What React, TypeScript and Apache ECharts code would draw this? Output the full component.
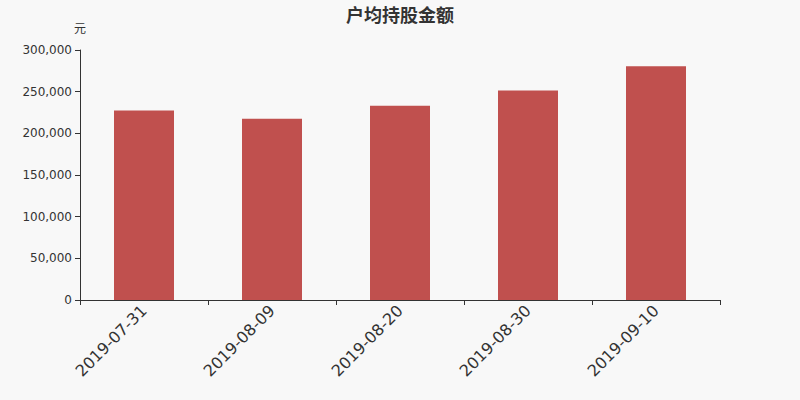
import React, { useEffect, useRef } from "react";
import * as echarts from "echarts";

const categories = ["2019-07-31", "2019-08-09", "2019-08-20", "2019-08-30", "2019-09-10"];
const values = [227500, 217500, 233000, 251500, 280500];
const titleText = "户均持股金额";
const unitName = "元";

export default function App() {
  const ref = useRef<HTMLDivElement>(null);
  useEffect(() => {
    if (!ref.current) return;
    const chart = echarts.init(ref.current, undefined, { renderer: "svg" });
    chart.setOption({
      animation: false,
      backgroundColor: "#f8f8f8",
      title: {
        text: titleText,
        left: "center",
        top: 0,
        textStyle: { fontSize: 18, fontWeight: "bold", color: "#333", fontFamily: "Noto Sans CJK SC" },
      },
      grid: { left: 80, right: 80, top: 50, bottom: 100, containLabel: false },
      xAxis: {
        type: "category",
        data: categories,
        axisLine: { lineStyle: { color: "#333" } },
        axisTick: { show: true, alignWithLabel: false, lineStyle: { color: "#333" } },
        axisLabel: { rotate: 45, fontSize: 16, color: "#333", fontFamily: "DejaVu Sans", margin: 8 },
      },
      yAxis: {
        type: "value",
        name: unitName,
        nameTextStyle: { fontSize: 12, color: "#333", fontFamily: "Noto Sans CJK SC", align: "center" },
        nameGap: 17,
        min: 0,
        max: 300000,
        interval: 50000,
        axisLine: { show: true, lineStyle: { color: "#333" } },
        axisTick: { show: true, lineStyle: { color: "#333" } },
        splitLine: { show: false },
        axisLabel: {
          fontSize: 12,
          color: "#333",
          fontFamily: "DejaVu Sans",
          formatter: (v: number) => v.toLocaleString("en-US"),
        },
      },
      series: [
        {
          type: "bar",
          data: values,
          barWidth: 60,
          itemStyle: { color: "#c0504e" },
        },
      ],
    });
    return () => chart.dispose();
  }, []);
  return <div ref={ref} style={{ width: 800, height: 400, position: "absolute", left: 0, top: 0 }} />;
}
